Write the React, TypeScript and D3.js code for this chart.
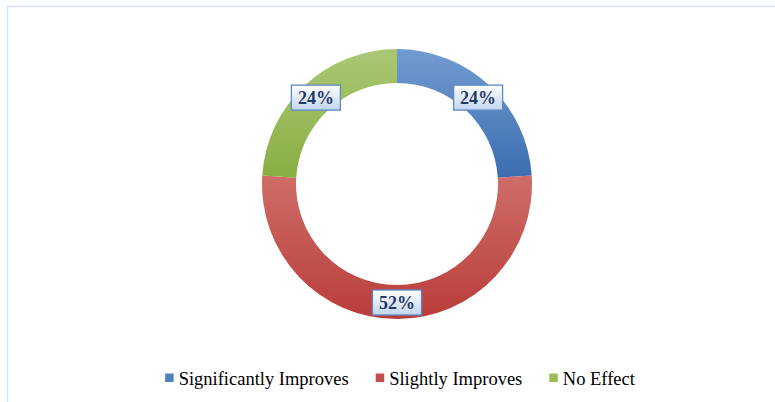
import React from "react";
import * as d3 from "d3";

const categories = ["Significantly Improves", "Slightly Improves", "No Effect"];
const shares = [24, 52, 24];
const labels = ["24%", "52%", "24%"];
const topColors = ["#729bd1", "#cf6d69", "#abc774"];
const bottomColors = ["#3b6db0", "#b83d39", "#8aae43"];
const swatchColors = ["#4f81bd", "#c0504d", "#9bbb59"];

const W = 775;
const H = 402;
const FONT = "Liberation Serif";

const cx = 397;
const cy = 184;
const outerR = 135;
const innerR = 101;

function textWidth(s: string, size: number): number {
  const c = document.createElement("canvas").getContext("2d");
  if (!c) return s.length * size * 0.45;
  c.font = `${size}px "${FONT}"`;
  return c.measureText(s).width;
}

export default function App() {
  const pie = d3
    .pie<number>()
    .sort(null)
    .value((d) => d);
  const arcs = pie(shares);
  const arc = d3.arc<d3.PieArcDatum<number>>().innerRadius(innerR).outerRadius(outerR);
  const mid = (innerR + outerR) / 2 + 0.5;
  const labelArc = d3.arc<d3.PieArcDatum<number>>().innerRadius(mid).outerRadius(mid);

  const boxW = 49;
  const boxH = 25;

  // legend layout: swatch + gap + text, items separated by a fixed gap
  const legendSize = 18.5;
  const sw = 8.5;
  const swGap = 5;
  const itemGap = 27;
  const itemWidths = categories.map((c) => sw + swGap + textWidth(c, legendSize));
  const total = d3.sum(itemWidths) + itemGap * (categories.length - 1);
  const starts: number[] = [];
  let x = cx + 3 - total / 2;
  itemWidths.forEach((w) => {
    starts.push(x);
    x += w + itemGap;
  });
  const legendY = 379;

  return (
    <svg
      width={W}
      height={H}
      style={{ position: "absolute", left: 0, top: 0, background: "#fff" }}
    >
      <defs>
        {categories.map((_, i) => (
          <linearGradient key={i} id={`slice-grad-${i}`} x1={0} y1={0} x2={0} y2={1}>
            <stop offset="0%" stopColor={topColors[i]} />
            <stop offset="100%" stopColor={bottomColors[i]} />
          </linearGradient>
        ))}
        <linearGradient id="label-grad" x1={0} y1={0} x2={0} y2={1}>
          <stop offset="0%" stopColor="#ffffff" />
          <stop offset="100%" stopColor="#c3d5ee" />
        </linearGradient>
      </defs>

      {/* chart frame */}
      <rect
        x={7.5}
        y={6.5}
        width={W + 20}
        height={H + 20}
        fill="none"
        stroke="#d5e2f3"
        strokeWidth={1.5}
      />

      <g transform={`translate(${cx},${cy})`}>
        {arcs.map((a, i) => (
          <path key={i} d={arc(a) || ""} fill={`url(#slice-grad-${i})`} />
        ))}
        {arcs.map((a, i) => {
          const [lx, ly] = labelArc.centroid(a);
          return (
            <g key={`l${i}`} transform={`translate(${lx},${ly})`}>
              <rect
                x={-boxW / 2}
                y={-boxH / 2}
                width={boxW}
                height={boxH}
                fill="url(#label-grad)"
                stroke="#5b8ac6"
                strokeWidth={1.3}
              />
              <text
                textAnchor="middle"
                dy="0.35em"
                fontFamily={FONT}
                fontWeight="bold"
                fontSize={18}
                fill="#1f3a68"
              >
                {labels[i]}
              </text>
            </g>
          );
        })}
      </g>

      <g transform={`translate(0,${legendY})`}>
        {categories.map((c, i) => (
          <g key={c} transform={`translate(${starts[i]},0)`}>
            <rect x={0} y={-5.5} width={sw} height={sw} fill={swatchColors[i]} />
            <text x={sw + swGap} dy="0.33em" fontFamily={FONT} fontSize={legendSize} fill="#000">
              {c}
            </text>
          </g>
        ))}
      </g>
    </svg>
  );
}
